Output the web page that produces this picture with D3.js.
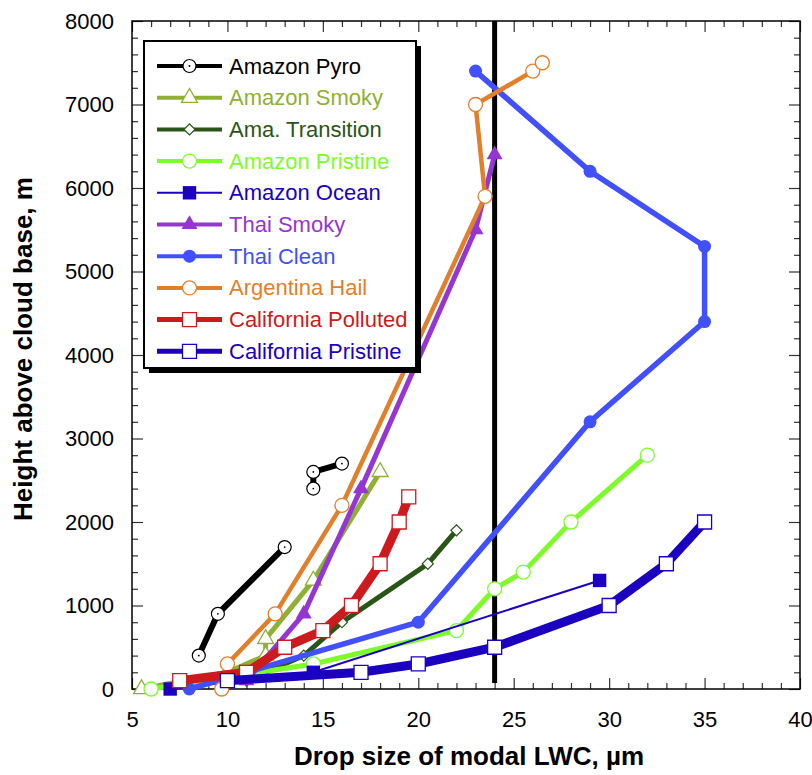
<!DOCTYPE html>
<html>
<head>
<meta charset="utf-8">
<script src="https://cdn.jsdelivr.net/npm/d3@7"></script>
<style>
  body { margin: 0; background: #fff; }
  svg { display: block; }
</style>
</head>
<body>
<div id="chart"></div>
<script>
// Drop size of modal LWC vs height above cloud base
const seriesNames = ['Amazon Pyro', 'Amazon Smoky', 'Ama. Transition', 'Amazon Pristine', 'Amazon Ocean',
  'Thai Smoky', 'Thai Clean', 'Argentina Hail', 'California Polluted', 'California Pristine'];

// [drop size um, height m]; null = gap in the line
const amazonPyro = [[8.5, 400], [9.5, 900], [13, 1700], null, [14.5, 2400], [14.5, 2600], [16, 2700]];
const amazonSmoky = [[5.5, 0], [10, 200], [12, 400], [12, 600], [14.5, 1300], [18, 2600]];
const amaTransition = [[11, 100], [14, 400], [16, 800], [20.5, 1500], [22, 1900]];
const amazonPristine = [[6, 0], [14.5, 300], [22, 700], [24, 1200], [25.5, 1400], [28, 2000], [32, 2800]];
const amazonOcean = [[7, 0], [14.5, 200], [29.5, 1300]];
const thaiSmoky = [[11, 100], [14, 900], [17, 2400], [23, 5500], [24, 6400]];
const thaiClean = [[8, 0], [20, 800], [29, 3200], [35, 4400], [35, 5300], [29, 6200], [23, 7400]];
const argentinaHail = [[9.7, 0], [10, 300], [12.5, 900], [16, 2200], [23.5, 5900], [23, 7000], [26, 7400], [26.5, 7500]];
const caPolluted = [[7.5, 100], [11, 200], [13, 500], [15, 700], [16.5, 1000], [18, 1500], [19, 2000], [19.5, 2300]];
const caPristine = [[10, 100], [17, 200], [20, 300], [24, 500], [30, 1000], [33, 1500], [35, 2000]];

const refLine = 24; // vertical marker at 24 um

const xTicks = [5, 10, 15, 20, 25, 30, 35, 40];
const yTicks = [0, 1000, 2000, 3000, 4000, 5000, 6000, 7000, 8000];

const width = 812;
const height = 775;
const font = 'Arial, "Liberation Sans", Helvetica, sans-serif';

const series = [
  { name: seriesNames[0], data: amazonPyro, color: '#000000', width: 6, legendWidth: 4, shape: 'pyro' },
  { name: seriesNames[1], data: amazonSmoky, color: '#8fb035', width: 5, legendWidth: 4, shape: 'triangleOpen' },
  { name: seriesNames[2], data: amaTransition, color: '#2b5518', width: 5, legendWidth: 4, shape: 'diamondOpen' },
  { name: seriesNames[3], data: amazonPristine, color: '#7dfc2a', width: 5, legendWidth: 4, shape: 'circleOpen' },
  { name: seriesNames[4], data: amazonOcean, color: '#1a00c4', width: 2, legendWidth: 2, shape: 'squareFilled' },
  { name: seriesNames[5], data: thaiSmoky, color: '#9535d2', width: 5, legendWidth: 4, shape: 'triangleFilled' },
  { name: seriesNames[6], data: thaiClean, color: '#4150fa', width: 5.5, legendWidth: 4, shape: 'circleFilled' },
  { name: seriesNames[7], data: argentinaHail, color: '#e07f2c', width: 4.5, legendWidth: 4, shape: 'circleOpen' },
  { name: seriesNames[8], data: caPolluted, color: '#cc1b1e', width: 9, legendWidth: 5, shape: 'squareOpen' },
  { name: seriesNames[9], data: caPristine, color: '#1c00c0', width: 9, legendWidth: 5, shape: 'squareOpen' }
];

const svg = d3.select('#chart').append('svg')
  .attr('width', width)
  .attr('height', height);

const x = d3.scaleLinear().domain([5, 40]).range([132, 800]);
const y = d3.scaleLinear().domain([0, 8000]).range([689, 21]);

// Minor ticks
const xMinor = d3.range(5, 41, 1).filter(v => v % 5 !== 0);
const yMinor = d3.range(0, 8001, 200).filter(v => v % 1000 !== 0);

function styleAxis(g) {
  g.select('.domain').remove();
  g.selectAll('.tick line').attr('stroke', '#333').attr('stroke-width', 1.2);
  g.selectAll('.tick text')
    .attr('font-family', font)
    .attr('font-size', '22px')
    .attr('fill', '#000');
}

// bottom
svg.append('g').attr('transform', `translate(0,${y(0)})`)
  .call(d3.axisBottom(x).tickValues(xTicks).tickSizeInner(-11).tickSizeOuter(0).tickPadding(22).tickFormat(d3.format('d')))
  .call(styleAxis);
svg.append('g').attr('transform', `translate(0,${y(0)})`)
  .call(d3.axisBottom(x).tickValues(xMinor).tickSizeInner(-6).tickSizeOuter(0).tickFormat(''))
  .call(styleAxis);
// top
svg.append('g').attr('transform', `translate(0,${y(8000)})`)
  .call(d3.axisTop(x).tickValues(xTicks).tickSizeInner(-11).tickSizeOuter(0).tickFormat(''))
  .call(styleAxis);
svg.append('g').attr('transform', `translate(0,${y(8000)})`)
  .call(d3.axisTop(x).tickValues(xMinor).tickSizeInner(-6).tickSizeOuter(0).tickFormat(''))
  .call(styleAxis);
// left
svg.append('g').attr('transform', `translate(${x(5)},0)`)
  .call(d3.axisLeft(y).tickValues(yTicks).tickSizeInner(-11).tickSizeOuter(0).tickPadding(18).tickFormat(d3.format('d')))
  .call(styleAxis);
svg.append('g').attr('transform', `translate(${x(5)},0)`)
  .call(d3.axisLeft(y).tickValues(yMinor).tickSizeInner(-6).tickSizeOuter(0).tickFormat(''))
  .call(styleAxis);
// right
svg.append('g').attr('transform', `translate(${x(40)},0)`)
  .call(d3.axisRight(y).tickValues(yTicks).tickSizeInner(-11).tickSizeOuter(0).tickFormat(''))
  .call(styleAxis);
svg.append('g').attr('transform', `translate(${x(40)},0)`)
  .call(d3.axisRight(y).tickValues(yMinor).tickSizeInner(-6).tickSizeOuter(0).tickFormat(''))
  .call(styleAxis);

// frame
svg.append('rect')
  .attr('x', x(5)).attr('y', y(8000))
  .attr('width', x(40) - x(5)).attr('height', y(0) - y(8000))
  .attr('fill', 'none').attr('stroke', '#000').attr('stroke-width', 1.5);

// axis titles
svg.append('text')
  .attr('x', (x(5) + x(40)) / 2 + 3)
  .attr('y', 765)
  .attr('text-anchor', 'middle')
  .attr('font-family', font).attr('font-size', '26px').attr('font-weight', 'bold')
  .text('Drop size of modal LWC, \u00b5m');

svg.append('text')
  .attr('transform', `translate(32,${(y(0) + y(8000)) / 2 - 6}) rotate(-90)`)
  .attr('text-anchor', 'middle')
  .attr('font-family', font).attr('font-size', '26px').attr('font-weight', 'bold')
  .text('Height above cloud base, m');

// reference line at 24 um
svg.append('line')
  .attr('x1', x(refLine)).attr('x2', x(refLine))
  .attr('y1', y(0) - 6).attr('y2', y(8000))
  .attr('stroke', '#000').attr('stroke-width', 5);

const line = d3.line()
  .defined(d => d !== null)
  .x(d => x(d[0]))
  .y(d => y(d[1]));

function drawMarker(g, shape, color, cx, cy) {
  const m = g.append('g').attr('transform', `translate(${cx},${cy})`);
  if (shape === 'pyro') {
    m.append('circle').attr('r', 6.5).attr('fill', '#fff').attr('stroke', '#000').attr('stroke-width', 1.2);
    m.append('circle').attr('r', 0.9).attr('fill', '#000');
  } else if (shape === 'circleOpen') {
    m.append('circle').attr('r', 7).attr('fill', '#fff').attr('stroke', color).attr('stroke-width', 1.3);
  } else if (shape === 'circleFilled') {
    m.append('circle').attr('r', 6.5).attr('fill', color);
  } else if (shape === 'triangleOpen') {
    m.append('path').attr('d', d3.symbol(d3.symbolTriangle, 110)()).attr('fill', '#fff').attr('stroke', color).attr('stroke-width', 1.3);
  } else if (shape === 'triangleFilled') {
    m.append('path').attr('d', d3.symbol(d3.symbolTriangle, 110)()).attr('fill', color);
  } else if (shape === 'diamondOpen') {
    m.append('path').attr('d', d3.symbol(d3.symbolSquare, 62)()).attr('transform', 'rotate(45)')
      .attr('fill', '#fff').attr('stroke', color).attr('stroke-width', 1.2);
  } else if (shape === 'squareOpen') {
    m.append('path').attr('d', d3.symbol(d3.symbolSquare, 196)()).attr('fill', '#fff').attr('stroke', color).attr('stroke-width', 1.3);
  } else if (shape === 'squareFilled') {
    m.append('path').attr('d', d3.symbol(d3.symbolSquare, 180)()).attr('fill', color);
  }
}

const plot = svg.append('g');
series.forEach(s => {
  const g = plot.append('g');
  g.append('path')
    .datum(s.data)
    .attr('d', line)
    .attr('fill', 'none')
    .attr('stroke', s.color)
    .attr('stroke-width', s.width)
    .attr('stroke-linejoin', 'miter');
  s.data.filter(d => d !== null).forEach(d => drawMarker(g, s.shape, s.color, x(d[0]), y(d[1])));
});

// legend
const legend = svg.append('g');
const lx = 144, ly = 41, lw = 272, lh = 327;
legend.append('rect').attr('x', lx + 5).attr('y', ly + 5).attr('width', lw).attr('height', lh).attr('fill', '#000');
legend.append('rect').attr('x', lx).attr('y', ly).attr('width', lw).attr('height', lh)
  .attr('fill', '#fff').attr('stroke', '#000').attr('stroke-width', 2);

series.forEach((s, i) => {
  const ry = 66 + i * 31.7;
  legend.append('line')
    .attr('x1', 157).attr('x2', 222).attr('y1', ry).attr('y2', ry)
    .attr('stroke', s.color).attr('stroke-width', s.legendWidth);
  drawMarker(legend, s.shape, s.color, 189.5, ry);
  legend.append('text')
    .attr('x', 229).attr('y', ry + 7.5)
    .attr('font-family', font).attr('font-size', '22px')
    .attr('fill', s.color)
    .text(s.name);
});
</script>
</body>
</html>
